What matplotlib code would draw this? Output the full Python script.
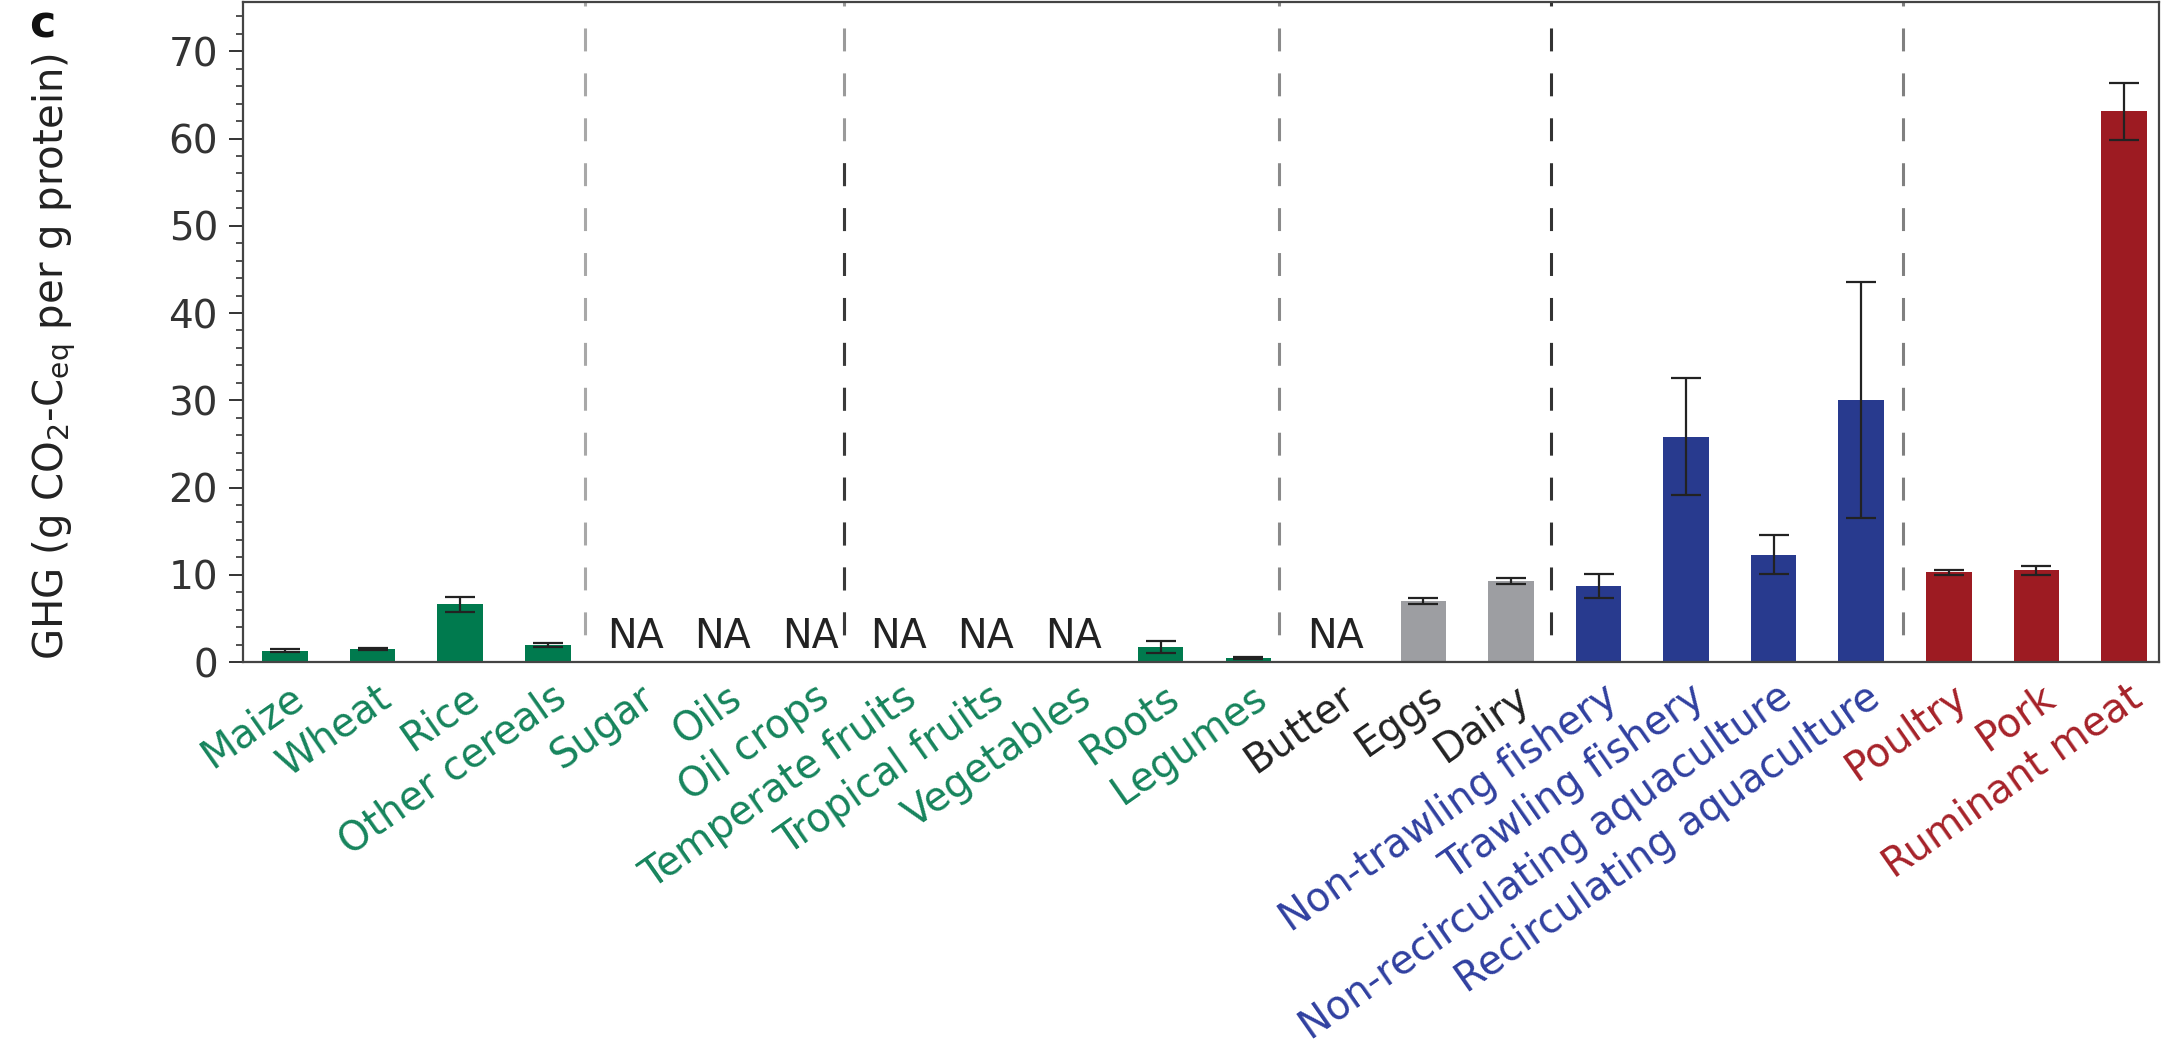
import numpy as np
import matplotlib
matplotlib.use("Agg")
import matplotlib.pyplot as plt
from matplotlib.patches import Rectangle
from matplotlib.transforms import ScaledTranslation

# ---- data -------------------------------------------------------------
categories = [
    "Maize", "Wheat", "Rice", "Other cereals", "Sugar", "Oils", "Oil crops",
    "Temperate fruits", "Tropical fruits", "Vegetables", "Roots", "Legumes",
    "Butter", "Eggs", "Dairy", "Non-trawling fishery", "Trawling fishery",
    "Non-recirculating aquaculture", "Recirculating aquaculture",
    "Poultry", "Pork", "Ruminant meat",
]
nan = np.nan
ghg_mean = [1.3, 1.5, 6.6, 1.95, nan, nan, nan, nan, nan, nan, 1.75, 0.5,
            nan, 7.0, 9.3, 8.7, 25.8, 12.3, 30.0, 10.3, 10.5, 63.1]
ghg_err = [0.15, 0.15, 0.9, 0.18, nan, nan, nan, nan, nan, nan, 0.7, 0.1,
           nan, 0.35, 0.35, 1.35, 6.7, 2.25, 13.5, 0.3, 0.5, 3.25]
groups = (["crop"] * 12 + ["dairy"] * 3 + ["seafood"] * 4 + ["meat"] * 3)

bar_colors = {"crop": "#007A4E", "dairy": "#9D9EA2",
              "seafood": "#283A8E", "meat": "#9D1B22"}
label_colors = {"crop": "#16845C", "dairy": "#222222",
                "seafood": "#3040A0", "meat": "#A62229"}

# group separators (x in category units) and their dash colours
separators = [3.43, 6.38, 11.35, 14.46, 18.48]
separator_colors = ["#A8A8A8", "#3A3A3A", "#8A8A8A", "#333333", "#808080"]

yticks = list(range(0, 71, 10))
ylabel = "GHG (g CO$_2$-C$_\\mathrm{eq}$ per g protein)"

# ---- figure -------------------------------------------------------------
plt.rcParams["font.family"] = ["DejaVu Sans"]
plt.rcParams["mathtext.fontset"] = "dejavusans"

W, H = 2169, 1047
fig = plt.figure(figsize=(W / 100, H / 100), dpi=100)
ax = fig.add_axes([243 / W, 385 / H, (2159 - 243) / W, (1045 - 385) / H])

x = np.arange(len(categories))
means = np.array(ghg_mean, dtype=float)
errs = np.array(ghg_err, dtype=float)
has = ~np.isnan(means)

ax.bar(x[has], means[has], width=0.52,
       color=[bar_colors[g] for g, h in zip(groups, has) if h], zorder=2)
ax.errorbar(x[has], means[has], yerr=errs[has], fmt="none",
            ecolor="#222222", elinewidth=1.6, capsize=11, capthick=1.6,
            zorder=3)

# "NA" where no estimate is available
for xi, m in zip(x, means):
    if np.isnan(m):
        ax.text(xi, 0.55, "NA", ha="center", va="bottom",
                fontsize=28.5, color="#222222")

ax.set_xlim(-0.48, 21.4)
ax.set_ylim(0, 75.65)

# dashed group separators, drawn from the top downwards
ytop, ybot = 75.65, 1.5
for i, (sx, col) in enumerate(zip(separators, separator_colors)):
    if i == 1:
        # light upper part, dark lower part
        ax.plot([sx, sx], [ytop, ybot], color="#9A9A9A", lw=2.2,
                linestyle=(6.2, (7.5, 7.2)), zorder=1)
        ln, = ax.plot([sx, sx], [ytop, ybot], color=col, lw=2.2,
                      linestyle=(6.2, (7.5, 7.2)), zorder=1.5)
        ln.set_clip_path(Rectangle((sx - 1, 0), 2, 57.5,
                                   transform=ax.transData))
    else:
        ax.plot([sx, sx], [ytop, ybot], color=col, lw=2.2,
                linestyle=(6.2, (7.5, 7.2)), zorder=1)

# axes styling
for s in ax.spines.values():
    s.set_color("#444444")
    s.set_linewidth(1.6)

ax.set_yticks(yticks)
ax.set_yticks(np.arange(0, 76, 2), minor=True)
ax.tick_params(axis="y", which="major", length=10, width=1.4,
               color="#333333", labelsize=28, labelcolor="#333333", pad=8)
ax.tick_params(axis="y", which="minor", length=5, width=1.2,
               color="#333333")

ax.set_xticks(x)
ax.set_xticklabels(categories, rotation=35, ha="right", va="top",
                   rotation_mode="anchor", fontsize=28.5)
ax.tick_params(axis="x", length=0, pad=11)
shift = ScaledTranslation(3 / 100, 0, fig.dpi_scale_trans)
for lbl, g in zip(ax.get_xticklabels(), groups):
    lbl.set_color(label_colors[g])
    lbl.set_transform(lbl.get_transform() + shift)

ax.set_ylabel(ylabel, fontsize=29, color="#222222")
ax.yaxis.set_label_coords(-0.086, 0.463)

fig.text(42 / W, 1 - 25 / H, "c", fontsize=32, fontweight="bold",
         ha="center", va="center", color="#111111")

fig.savefig("out.png", dpi=100)
